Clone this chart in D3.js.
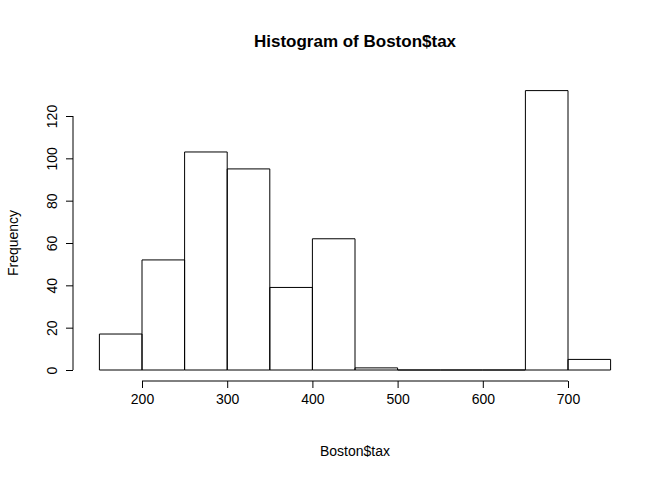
<!DOCTYPE html>
<html><head><meta charset="utf-8">
<script src="https://cdn.jsdelivr.net/npm/d3@7"></script>
<style>body{margin:0;background:#fff}text{font-family:"Liberation Sans",Arial,sans-serif}</style>
</head><body><svg id="c" width="672" height="480"></svg>
<script>
const breaks=[150,200,250,300,350,400,450,500,550,600,650,700,750];
const counts=[17,52,103,95,39,62,1,0,0,0,132,5];
const xTicks=[200,300,400,500,600,700];
const yTicks=[0,20,40,60,80,100,120];
const svg=d3.select("#c");
const x=d3.scaleLinear().domain([200,700]).range([142,568]);
const y=d3.scaleLinear().domain([0,120]).range([370,116]);
svg.selectAll("path.bar").data(counts).join("path").attr("class","bar")
 .attr("d",(d,i)=>{const a=x(breaks[i]),b=x(breaks[i+1]),t=y(d),z=y(0);return `M${a},${z}L${a},${t}L${b},${t}L${b},${z}Z`;})
 .attr("fill","none").attr("stroke","#000").attr("stroke-width",1);
const xa=svg.append("g").attr("transform","translate(0,381)")
 .call(d3.axisBottom(x).tickValues(xTicks).tickSize(7).tickPadding(6));
const ya=svg.append("g").attr("transform","translate(73,0)")
 .call(d3.axisLeft(y).tickValues(yTicks).tickSize(7).tickPadding(6));
[xa,ya].forEach(a=>{a.selectAll("text").attr("font-size",14).attr("fill","#000").style("font-family","Liberation Sans, Arial");a.select(".domain").attr("d",null);});
xa.append("line").attr("x1",x(200)).attr("x2",x(700)).attr("stroke","#000");
ya.append("line").attr("y1",y(0)).attr("y2",y(120)).attr("stroke","#000");
ya.selectAll(".tick text").attr("transform","rotate(-90)").attr("x",0).attr("y",-16).attr("dy","0").attr("text-anchor","middle");
svg.append("text").attr("x",355).attr("y",47).attr("text-anchor","middle").attr("font-size",17).attr("font-weight","bold").text("Histogram of Boston$tax");
svg.append("text").attr("x",355).attr("y",456).attr("text-anchor","middle").attr("font-size",14).text("Boston$tax");
svg.append("text").attr("transform","translate(18,243) rotate(-90)").attr("text-anchor","middle").attr("font-size",14).text("Frequency");
</script></body></html>
